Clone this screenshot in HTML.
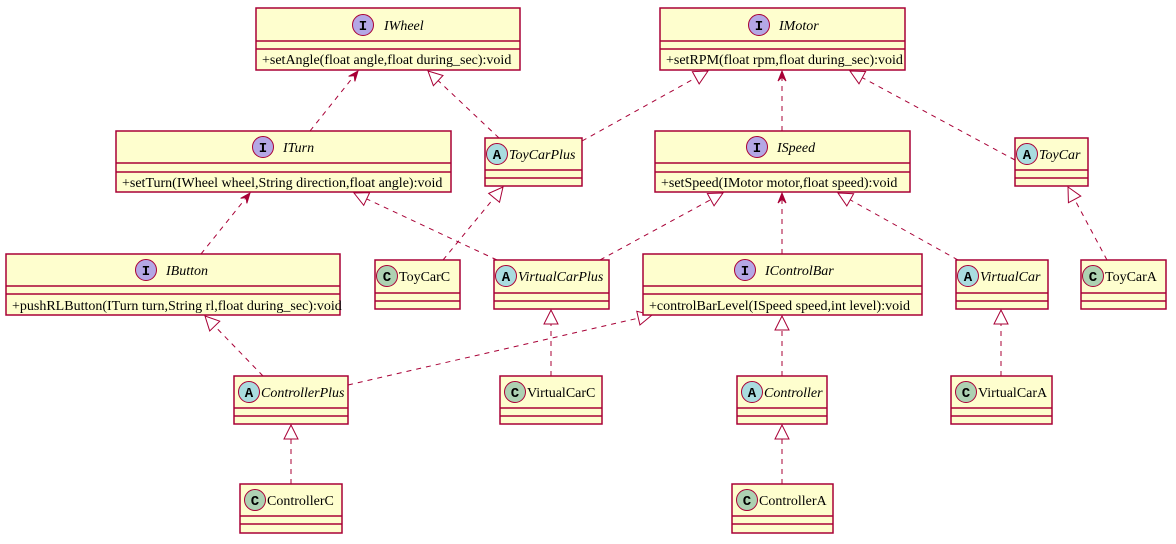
<!DOCTYPE html>
<html><head><meta charset="utf-8"><style>
html,body{margin:0;padding:0;background:#fff;}
svg{display:block;}
text{font-family:"Liberation Serif",serif;font-size:14px;fill:#000;}
.n{font-style:italic;}
.l{font-family:"Liberation Mono",monospace;font-weight:bold;font-size:14px;}
</style></head><body>
<svg id="s" width="1176" height="544" viewBox="0 0 1176 544" xmlns="http://www.w3.org/2000/svg">
<g id="edges" stroke="#A80036" fill="none" stroke-width="1"></g>
<g stroke="#A80036" stroke-width="1.5" fill="#FEFECE">
<rect x="256" y="8" width="264" height="62"/><line x1="256" y1="41" x2="520" y2="41"/><line x1="256" y1="49" x2="520" y2="49"/>
<rect x="116" y="131" width="335" height="61"/><line x1="116" y1="163" x2="451" y2="163"/><line x1="116" y1="172" x2="451" y2="172"/>
<rect x="6" y="254" width="334" height="61"/><line x1="6" y1="286" x2="340" y2="286"/><line x1="6" y1="294" x2="340" y2="294"/>
<rect x="660" y="8" width="245" height="62"/><line x1="660" y1="41" x2="905" y2="41"/><line x1="660" y1="49" x2="905" y2="49"/>
<rect x="655" y="131" width="255" height="61"/><line x1="655" y1="163" x2="910" y2="163"/><line x1="655" y1="172" x2="910" y2="172"/>
<rect x="643" y="254" width="279" height="61"/><line x1="643" y1="286" x2="922" y2="286"/><line x1="643" y1="294" x2="922" y2="294"/>
<rect x="485" y="138" width="97" height="48"/><line x1="485" y1="170" x2="582" y2="170"/><line x1="485" y1="178" x2="582" y2="178"/>
<rect x="1015" y="138" width="73" height="48"/><line x1="1015" y1="170" x2="1088" y2="170"/><line x1="1015" y1="178" x2="1088" y2="178"/>
<rect x="375" y="260" width="85" height="49"/><line x1="375" y1="293" x2="460" y2="293"/><line x1="375" y1="301" x2="460" y2="301"/>
<rect x="494" y="260" width="115" height="49"/><line x1="494" y1="293" x2="609" y2="293"/><line x1="494" y1="301" x2="609" y2="301"/>
<rect x="956" y="260" width="92" height="49"/><line x1="956" y1="293" x2="1048" y2="293"/><line x1="956" y1="301" x2="1048" y2="301"/>
<rect x="1081" y="260" width="85" height="49"/><line x1="1081" y1="293" x2="1166" y2="293"/><line x1="1081" y1="301" x2="1166" y2="301"/>
<rect x="234" y="376" width="114" height="48"/><line x1="234" y1="408" x2="348" y2="408"/><line x1="234" y1="416" x2="348" y2="416"/>
<rect x="500" y="376" width="102" height="48"/><line x1="500" y1="408" x2="602" y2="408"/><line x1="500" y1="416" x2="602" y2="416"/>
<rect x="737" y="376" width="90" height="48"/><line x1="737" y1="408" x2="827" y2="408"/><line x1="737" y1="416" x2="827" y2="416"/>
<rect x="951" y="376" width="101" height="48"/><line x1="951" y1="408" x2="1052" y2="408"/><line x1="951" y1="416" x2="1052" y2="416"/>
<rect x="240" y="484" width="102" height="49"/><line x1="240" y1="516" x2="342" y2="516"/><line x1="240" y1="524" x2="342" y2="524"/>
<rect x="732" y="484" width="101" height="49"/><line x1="732" y1="516" x2="833" y2="516"/><line x1="732" y1="524" x2="833" y2="524"/>
</g>
<g stroke="#A80036" stroke-width="1">
<circle cx="363" cy="25" r="10.5" fill="#B4A7E5"/>
<circle cx="263" cy="147" r="10.5" fill="#B4A7E5"/>
<circle cx="146" cy="270" r="10.5" fill="#B4A7E5"/>
<circle cx="759" cy="25" r="10.5" fill="#B4A7E5"/>
<circle cx="757" cy="147" r="10.5" fill="#B4A7E5"/>
<circle cx="745" cy="270" r="10.5" fill="#B4A7E5"/>
<circle cx="497" cy="154" r="10.5" fill="#A9DCDF"/>
<circle cx="1027" cy="154" r="10.5" fill="#A9DCDF"/>
<circle cx="387" cy="276" r="10.5" fill="#ADD1B2"/>
<circle cx="506" cy="276" r="10.5" fill="#A9DCDF"/>
<circle cx="968" cy="276" r="10.5" fill="#A9DCDF"/>
<circle cx="1093" cy="276" r="10.5" fill="#ADD1B2"/>
<circle cx="249" cy="392" r="10.5" fill="#A9DCDF"/>
<circle cx="515" cy="392" r="10.5" fill="#ADD1B2"/>
<circle cx="752" cy="392" r="10.5" fill="#A9DCDF"/>
<circle cx="966" cy="392" r="10.5" fill="#ADD1B2"/>
<circle cx="255" cy="500" r="10.5" fill="#ADD1B2"/>
<circle cx="747" cy="500" r="10.5" fill="#ADD1B2"/>
</g>
<g text-anchor="middle">
<text class="l" x="363" y="30">I</text><text class="l" x="263" y="152">I</text><text class="l" x="146" y="275">I</text>
<text class="l" x="759" y="30">I</text><text class="l" x="757" y="152">I</text><text class="l" x="745" y="275">I</text>
<text class="l" x="497" y="159">A</text><text class="l" x="1027" y="159">A</text><text class="l" x="387" y="281">C</text>
<text class="l" x="506" y="281">A</text><text class="l" x="968" y="281">A</text><text class="l" x="1093" y="281">C</text>
<text class="l" x="249" y="397">A</text><text class="l" x="515" y="397">C</text><text class="l" x="752" y="397">A</text>
<text class="l" x="966" y="397">C</text><text class="l" x="255" y="505">C</text><text class="l" x="747" y="505">C</text>
</g>
<text class="n" x="384" y="30">IWheel</text>
<text class="n" x="283" y="152">ITurn</text>
<text class="n" x="166" y="275">IButton</text>
<text class="n" x="779" y="30">IMotor</text>
<text class="n" x="777" y="152">ISpeed</text>
<text class="n" x="765" y="275">IControlBar</text>
<text class="n" x="509" y="159">ToyCarPlus</text>
<text class="n" x="1039" y="159">ToyCar</text>
<text x="399" y="281">ToyCarC</text>
<text class="n" x="518" y="281">VirtualCarPlus</text>
<text class="n" x="980" y="281">VirtualCar</text>
<text x="1105" y="281">ToyCarA</text>
<text class="n" x="261" y="397">ControllerPlus</text>
<text x="527" y="397">VirtualCarC</text>
<text class="n" x="764" y="397">Controller</text>
<text x="978" y="397">VirtualCarA</text>
<text x="267" y="505">ControllerC</text>
<text x="759" y="505">ControllerA</text>
<text x="262" y="64">+setAngle(float angle,float during_sec):void</text>
<text x="122" y="187">+setTurn(IWheel wheel,String direction,float angle):void</text>
<text x="12" y="310">+pushRLButton(ITurn turn,String rl,float during_sec):void</text>
<text x="666" y="64">+setRPM(float rpm,float during_sec):void</text>
<text x="661" y="187">+setSpeed(IMotor motor,float speed):void</text>
<text x="649" y="310">+controlBarLevel(ISpeed speed,int level):void</text>
</svg>
<script>
var g=document.getElementById('edges'),NS='http://www.w3.org/2000/svg';
function el(t,a){var e=document.createElementNS(NS,t);for(var k in a)e.setAttribute(k,a[k]);g.appendChild(e);return e;}
function edge(x1,y1,x2,y2,tri){
 var dx=x2-x1,dy=y2-y1,L=Math.hypot(dx,dy),ux=dx/L,uy=dy/L,px=-uy,py=ux;
 var back=tri?14:0;
 el('line',{x1:x1,y1:y1,x2:x2-ux*back,y2:y2-uy*back,'stroke-dasharray':'5,5'});
 if(tri){
  var bx=x2-ux*14,by=y2-uy*14;
  el('polygon',{points:x2+','+y2+' '+(bx+px*7)+','+(by+py*7)+' '+(bx-px*7)+','+(by-py*7),fill:'none'});
 }else{
  var bx=x2-ux*10,by=y2-uy*10,mx=x2-ux*6,my=y2-uy*6;
  el('polygon',{points:x2+','+y2+' '+(bx+px*4)+','+(by+py*4)+' '+mx+','+my+' '+(bx-px*4)+','+(by-py*4),fill:'#A80036'});
 }
}
edge(310,131,358,71,0);
edge(499,138,428,71,1);
edge(582,141,708,71,1);
edge(782,131,782,71,0);
edge(1015,160,850,71,1);
edge(201,254,250,193,0);
edge(497,260,354,193,1);
edge(443,260,503,187,1);
edge(600,260,723,193,1);
edge(782,254,782,193,0);
edge(958,260,838,193,1);
edge(1107,260,1068,187,1);
edge(263,376,205,316,1);
edge(348,385,652,315,1);
edge(551,376,551,310,1);
edge(782,376,782,316,1);
edge(1001,376,1001,310,1);
edge(291,484,291,425,1);
edge(782,484,782,425,1);
</script>
</body></html>
